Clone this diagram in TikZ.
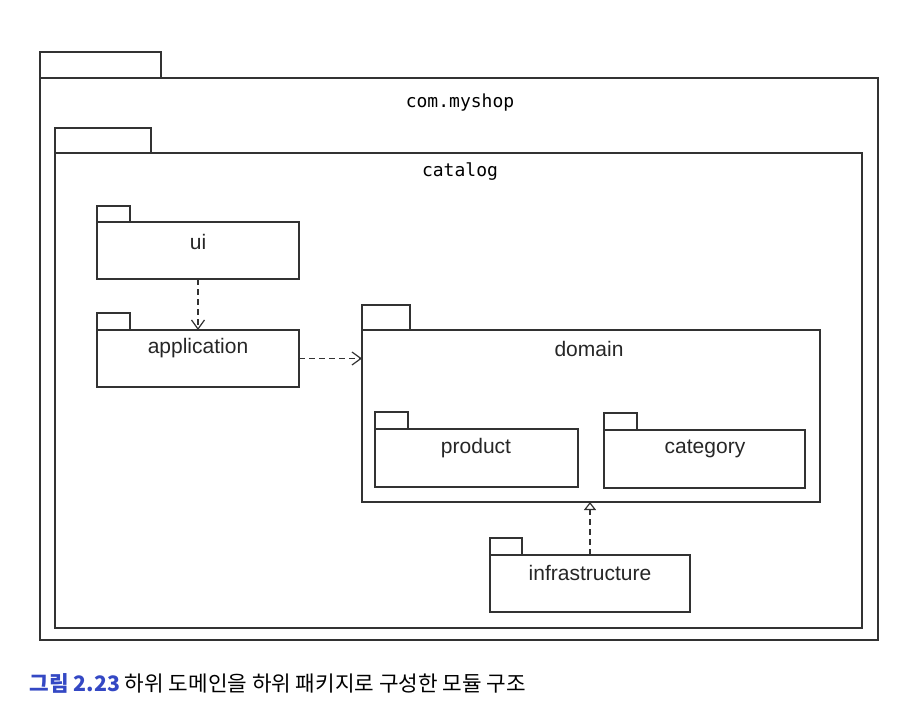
\documentclass[tikz,border=0pt]{standalone}
\usepackage{fontspec}
\setmainfont{Liberation Sans}
\setmonofont{DejaVu Sans Mono}
\newfontfamily\kr{Noto Sans CJK KR}
\usepackage{tikz}
\usetikzlibrary{arrows.meta}
\definecolor{capblue}{RGB}{52,72,196}
\definecolor{linegray}{RGB}{50,50,50}

\begin{document}
\begin{tikzpicture}[x=1pt, y=-1pt, line width=1.4pt,
  pkg/.style={rectangle, inner sep=0pt, outer sep=0pt, anchor=north west},
  pkgname/.style={font=\fontsize{21}{21}\selectfont, text=black!85},
  dep/.style={draw=linegray, line width=1.2pt, dash pattern=on 6pt off 4pt, -{Straight Barb[length=9pt, width=13pt]}},
  impl/.style={draw=linegray, line width=1.2pt, dash pattern=on 6pt off 4pt, -{Triangle[open, length=8pt, width=12pt]}}]
  \useasboundingbox (0,0) rectangle (908,720);
  % outer packages
  \node[pkg, minimum width=838pt, minimum height=562pt] (myshop) at (40,78) {};
  \node[pkg, minimum width=807pt, minimum height=475pt] (catalog) at (55,153) {};
  \node[font=\ttfamily\fontsize{18}{18}\selectfont] (myshoplabel) at (460,103) {com.myshop};
  \node[font=\ttfamily\fontsize{18}{18}\selectfont] (cataloglabel) at (460,172) {catalog};
  % ui and application
  \node[pkg, minimum width=202pt, minimum height=57pt] (ui) at (97,222) {};
  \node[pkgname] (uilabel) at (198,242) {ui};
  \node[pkg, minimum width=202pt, minimum height=57pt] (application) at (97,330) {};
  \node[pkgname] (applicationlabel) at (198,348) {application};
  % domain with sub packages
  \node[pkg, minimum width=458pt, minimum height=172pt] (domain) at (362,330) {};
  \node[pkgname] (domainlabel) at (589,349) {domain};
  \node[pkg, minimum width=203pt, minimum height=58pt] (product) at (375,429) {};
  \node[pkgname] (productlabel) at (476,448) {product};
  \node[pkg, minimum width=201pt, minimum height=58pt] (category) at (604,430) {};
  \node[pkgname] (categorylabel) at (705,449) {category};
  % infrastructure
  \node[pkg, minimum width=200pt, minimum height=57pt] (infrastructure) at (490,555) {};
  \node[pkgname] (infrastructurelabel) at (590,573) {infrastructure};
  % package outlines: body and tab
  \foreach \p/\tw/\th in {myshop/121/26, catalog/96/25, ui/33/16, application/33/17,
                          domain/48/25, product/33/17, category/33/17, infrastructure/32/17}
    {\draw[linegray] (\p.north west) rectangle (\p.south east);
     \draw[linegray] (\p.north west) rectangle ++(\tw,-\th);}
  % dependencies
  \draw[dep] (ui.south) -- (application.north);
  \draw[dep] (application.east) -- (domain.west |- application.east);
  \draw[impl] (infrastructure.north) -- (domain.south -| infrastructure.north);
  % caption
  \node[anchor=west, inner sep=0pt, font=\kr\fontsize{21.3}{21.3}\selectfont] (caption) at (29,683)
    {\textcolor{capblue}{\bfseries 그림 2.23} 하위 도메인을 하위 패키지로 구성한 모듈 구조};
\end{tikzpicture}
\end{document}
